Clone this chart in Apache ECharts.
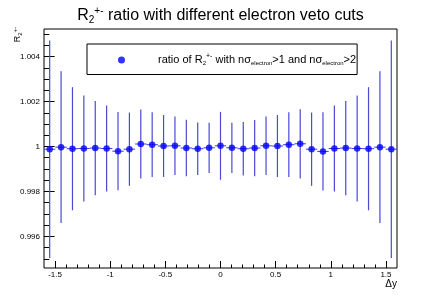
<!DOCTYPE html>
<html>
<head>
<meta charset="utf-8">
<script src="https://cdn.jsdelivr.net/npm/echarts@6/dist/echarts.min.js"></script>
<style>html,body{margin:0;padding:0;background:#fff}#c{width:441px;height:299px}</style>
</head>
<body>
<div id="c"></div>
<script>
// ---- data ----
const binCenters = [-1.5484,-1.4452,-1.3419,-1.2387,-1.1355,-1.0323,-0.9290,-0.8258,-0.7226,-0.6194,-0.5161,-0.4129,-0.3097,-0.2065,-0.1032,0,
  0.1032,0.2065,0.3097,0.4129,0.5161,0.6194,0.7226,0.8258,0.9290,1.0323,1.1355,1.2387,1.3419,1.4452,1.5484];
const ratioValues = [0.99988,0.99997,0.99990,0.99991,0.99993,0.99991,0.99979,0.99988,1.00011,1.00008,1.00002,1.00003,0.99993,0.99990,0.99994,1.00003,
  0.99994,0.99990,0.99993,1.00003,1.00002,1.00008,1.00012,0.99988,0.99978,0.99991,0.99993,0.99991,0.99990,0.99997,0.99988];
const ratioErrors = [0.00484,0.00338,0.00274,0.00236,0.00210,0.00191,0.00174,0.00163,0.00154,0.00144,0.00138,0.00130,0.00126,0.00117,0.00112,0.00151,
  0.00112,0.00119,0.00125,0.00130,0.00138,0.00144,0.00154,0.00163,0.00174,0.00191,0.00210,0.00236,0.00274,0.00338,0.00484];
const binHalfWidth = 0.0516;
const xTickLabels = ['-1.5','-1','-0.5','0','0.5','1','1.5'];
const yTickLabels = ['0.996','0.998','1','1.002','1.004'];
const seriesName = 'ratio of R2+- with nσelectron>1 and nσelectron>2';

// ---- layout ----
const G = {left:44, top:29, width:353, height:239};
const XR = [-1.6, 1.6], YR = [0.99459, 1.00523];
function subGridX(a,b){ return {left: G.left + (a-XR[0])/(XR[1]-XR[0])*G.width, width:(b-a)/(XR[1]-XR[0])*G.width, top:G.top, height:G.height, show:false}; }
function subGridY(a,b){ return {left:G.left, width:G.width, top: G.top + (YR[1]-b)/(YR[1]-YR[0])*G.height, height:(b-a)/(YR[1]-YR[0])*G.height, show:false}; }

const FONT = 'Liberation Sans, Arial, Helvetica, sans-serif';
const data = binCenters.map((x,i)=>[x, ratioValues[i], ratioErrors[i]]);
const hidden = {show:false};

const chart = echarts.init(document.getElementById('c'), null, {renderer:'canvas'});
chart.setOption({
  animation:false,
  textStyle:{fontFamily:FONT},
  title:{
    text:'R{sub|2}{sup|+-} ratio with different electron veto cuts',
    left:'center', top:1,
    textStyle:{fontFamily:FONT, fontSize:16, fontWeight:'normal', color:'#000',
      rich:{sub:{fontSize:10, fontFamily:FONT, padding:[9,0,0,0], color:'#000'}, sup:{fontSize:10, fontFamily:FONT, padding:[0,0,9,0], color:'#000'}}}
  },
  legend:{
    left:87, top:44, orient:'horizontal',
    padding:[9,1,8,31],
    itemWidth:7, itemHeight:7, icon:'circle',
    borderColor:'#000', borderWidth:1, backgroundColor:'#fff',
    formatter:()=> 'ratio of R{sub|2}{sup|+-} with nσ{s|electron}>1 and nσ{s|electron}>2',
    textStyle:{fontFamily:FONT, fontSize:11, color:'#000', padding:[0,0,0,28],
      rich:{sub:{fontSize:6, fontFamily:FONT, padding:[7,0,0,0]}, sup:{fontSize:7, fontFamily:FONT, padding:[0,0,7,0]}, s:{fontSize:6, fontFamily:FONT, padding:[7,0,0,0]}}},
    data:[{name:seriesName, icon:'circle', itemStyle:{color:'#0000ff'}}]
  },
  grid:[
    {left:G.left, top:G.top, width:G.width, height:G.height, show:true, borderColor:'#000', borderWidth:1, backgroundColor:'transparent'},
    subGridX(-1.5, 1.5),
    subGridY(0.996, 1.004),
    subGridY(0.995, 1.005)
  ],
  xAxis:[
    {gridIndex:0, type:'value', min:XR[0], max:XR[1], axisLine:{show:false}, axisTick:hidden, axisLabel:hidden, splitLine:hidden},
    {gridIndex:1, type:'value', min:-1.5, max:1.5, interval:0.5,
      axisLine:{show:false}, splitLine:hidden,
      axisTick:{show:true, inside:true, length:7, lineStyle:{color:'#000', width:1}},
      minorTick:{show:true, splitNumber:5, length:3.5, lineStyle:{color:'#000', width:1}},
      axisLabel:{show:true, margin:3, fontSize:8, color:'#000', fontFamily:FONT, formatter:(v)=>{ const i=Math.round((v+1.5)/0.5); return xTickLabels[i]; }}},
    {gridIndex:2, type:'value', show:false},
    {gridIndex:3, type:'value', show:false}
  ],
  yAxis:[
    {gridIndex:0, type:'value', min:YR[0], max:YR[1], axisLine:{show:false}, axisTick:hidden, axisLabel:hidden, splitLine:hidden},
    {gridIndex:1, type:'value', show:false},
    {gridIndex:2, type:'value', min:0.996, max:1.004, interval:0.002,
      axisLine:{show:false}, splitLine:hidden,
      axisTick:{show:true, inside:true, length:10.6, lineStyle:{color:'#000', width:1}},
      axisLabel:{show:true, margin:4, fontSize:8, color:'#000', fontFamily:FONT, formatter:(v)=>{ const i=Math.round((v-0.996)/0.002); return yTickLabels[i]; }}},
    {gridIndex:3, type:'value', min:0.995, max:1.005, interval:0.0005,
      axisLine:{show:false}, splitLine:hidden, axisLabel:hidden,
      axisTick:{show:true, inside:true, length:5.3, lineStyle:{color:'#000', width:1}}}
  ],
  graphic:[
    {type:'text', x:18, y:27, rotation:Math.PI/2,
      style:{text:'R{sub|2}{sup|+-}', fontSize:9, fontFamily:FONT, fill:'#000', align:'right', verticalAlign:'middle',
        rich:{sub:{fontSize:6, fontFamily:FONT, padding:[5,0,0,0]}, sup:{fontSize:6, fontFamily:FONT, padding:[0,0,5,0]}}}},
    {type:'text', x:397, y:284, style:{text:'Δy', fontSize:10, fontFamily:FONT, fill:'#000', align:'right', verticalAlign:'middle'}}
  ],
  series:[
    {type:'custom', xAxisIndex:0, yAxisIndex:0, data:data, clip:true, silent:true,
      renderItem:(params, api)=>{
        const x=api.value(0), y=api.value(1), e=api.value(2);
        const top=api.coord([x, y+e]), bot=api.coord([x, y-e]);
        const l=api.coord([x-binHalfWidth, y]), r=api.coord([x+binHalfWidth, y]);
        return {type:'group', children:[
          {type:'line', shape:{x1:top[0], y1:top[1], x2:bot[0], y2:bot[1]}, style:{stroke:'#4a4ad2', lineWidth:1.2}},
          {type:'line', shape:{x1:l[0], y1:l[1], x2:r[0], y2:r[1]}, style:{stroke:'#3a3ad6', lineWidth:1}}
        ]};
      }},
    {type:'scatter', name:seriesName, xAxisIndex:0, yAxisIndex:0, data:data.map(d=>[d[0], d[1]]),
      symbol:'circle', symbolSize:6.5, itemStyle:{color:'#0000ff'}, silent:true}
  ]
});
</script>
</body>
</html>
